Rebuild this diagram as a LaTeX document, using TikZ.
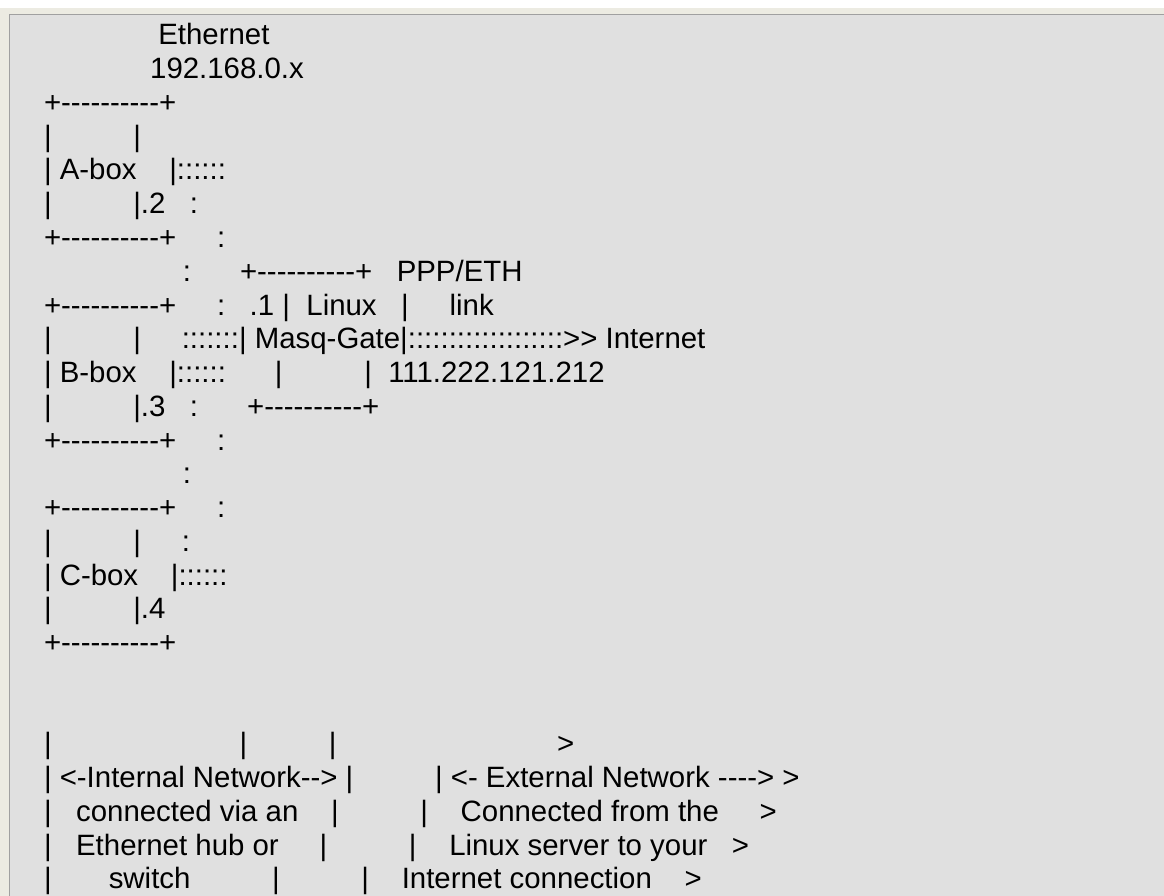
\documentclass[tikz,border=0pt]{standalone}
\usepackage{fontspec}
\newfontfamily\asc{Liberation Sans}[Ligatures=TeXOff]
\newcommand\sps[1]{\hspace*{#1\fontdimen2\font}}
\definecolor{panel}{HTML}{E0E0E0}
\definecolor{frame}{HTML}{ECEBE2}
\definecolor{edge}{HTML}{A0A0A0}
\begin{document}
\begin{tikzpicture}[x=1pt,y=-1pt,
  txt/.style={anchor=base west, inner sep=0pt, outer sep=0pt,
    font=\asc\fontsize{29.4pt}{33.75pt}\selectfont, text=black}]
\useasboundingbox (0,0) rectangle (1164,896);
\fill[frame] (0,0) rectangle (1164,896);
\fill[white] (0,0) rectangle (1164,8);
\fill[panel] (9,14) rectangle (1164,896);
\draw[edge, line width=1pt] (9.5,896) -- (9.5,14.5) -- (1164,14.5);
% lines
\node[txt] (l1)  at (44,45)     {\sps{14}Ethernet};
\node[txt] (l2)  at (44,78.75)  {\sps{13}192.168.0.x};
\node[txt] (l3)  at (44,112.5)  {+----------+};
\node[txt] (l4)  at (44,146.25) {|\sps{10}|};
\node[txt] (l5)  at (44,180)    {| A-box\sps{4}|::::::};
\node[txt] (l6)  at (44,213.75) {|\sps{10}|.2\sps{3}:};
\node[txt] (l7)  at (44,247.5)  {+----------+\sps{5}:};
\node[txt] (l8)  at (44,281.25) {\sps{17}:\sps{6}+----------+\sps{3}PPP/ETH};
\node[txt] (l9)  at (44,315)    {+----------+\sps{5}:\sps{3}.1 |\sps{2}Linux\sps{3}|\sps{5}link};
\node[txt] (l10) at (44,348.75) {|\sps{10}|\sps{5}:::::::| Masq-Gate|:::::::::::::::::::>> Internet};
\node[txt] (l11) at (44,382.5)  {| B-box\sps{4}|::::::\sps{6}|\sps{10}|\sps{2}111.222.121.212};
\node[txt] (l12) at (44,416.25) {|\sps{10}|.3\sps{3}:\sps{6}+----------+};
\node[txt] (l13) at (44,450)    {+----------+\sps{5}:};
\node[txt] (l14) at (44,483.75) {\sps{17}:};
\node[txt] (l15) at (44,517.5)  {+----------+\sps{5}:};
\node[txt] (l16) at (44,551.25) {|\sps{10}|\sps{5}:};
\node[txt] (l17) at (44,585)    {| C-box\sps{4}|::::::};
\node[txt] (l18) at (44,618.75) {|\sps{10}|.4};
\node[txt] (l19) at (44,652.5)  {+----------+};
\node[txt] (l22) at (44,753.75) {|\sps{23}|\sps{10}|\sps{27}>};
\node[txt] (l23) at (44,787.5)  {| <-Internal Network--> |\sps{10}| <- External Network ----> >};
\node[txt] (l24) at (44,821.25) {|\sps{3}connected via an\sps{4}|\sps{10}|\sps{4}Connected from the\sps{5}>};
\node[txt] (l25) at (44,855)    {|\sps{3}Ethernet hub or\sps{5}|\sps{10}|\sps{4}Linux server to your\sps{3}>};
\node[txt] (l26) at (44,888.75) {|\sps{7}switch\sps{10}|\sps{10}|\sps{4}Internet connection\sps{4}>};
\end{tikzpicture}
\end{document}
